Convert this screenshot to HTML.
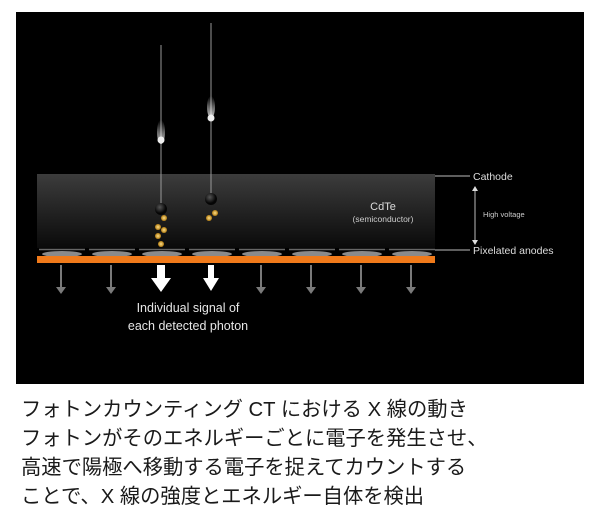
<!DOCTYPE html>
<html><head><meta charset="utf-8"><style>
body{margin:0;background:#fff;width:600px;height:530px;overflow:hidden;position:relative}
.t{position:absolute;left:21px;font-family:"Liberation Sans","Noto Sans CJK JP",sans-serif;font-size:20.3px;color:#1a1a1a;white-space:nowrap;line-height:29px}
</style></head><body>
<svg width="600" height="385" style="position:absolute;left:0;top:0" font-family="Liberation Sans,sans-serif">
<defs>
<linearGradient id="g" x1="0" y1="0" x2="0" y2="1"><stop offset="0" stop-color="#3c3c3c"/><stop offset="1" stop-color="#0a0a0a"/></linearGradient>
<radialGradient id="y"><stop offset="0" stop-color="#ffe08a"/><stop offset="1" stop-color="#b07a10"/></radialGradient>
<radialGradient id="b" cx="0.4" cy="0.35"><stop offset="0" stop-color="#555"/><stop offset="1" stop-color="#050505"/></radialGradient>
<linearGradient id="tr" x1="0" y1="0" x2="0" y2="1"><stop offset="0" stop-color="#fff" stop-opacity="0"/><stop offset="1" stop-color="#fff"/></linearGradient>
</defs>
<rect x="16" y="12" width="568" height="372" fill="#000"/>
<rect x="37" y="174" width="398" height="74" fill="url(#g)"/>
<g stroke="#999" stroke-width="1">
<line x1="161" y1="45" x2="161" y2="205"/><line x1="211" y1="23" x2="211" y2="195"/></g>
<ellipse cx="161" cy="132" rx="4" ry="12" fill="url(#tr)" opacity="0.8"/>
<circle cx="161" cy="140" r="3.5" fill="#eee"/>
<ellipse cx="211" cy="107" rx="4" ry="11" fill="url(#tr)" opacity="0.8"/>
<circle cx="211" cy="118" r="3.5" fill="#eee"/>
<circle cx="161" cy="209" r="6" fill="url(#b)"/><circle cx="211" cy="199" r="6" fill="url(#b)"/>
<g fill="url(#y)">
<circle cx="164" cy="218" r="3"/><circle cx="158" cy="227" r="3"/><circle cx="164" cy="230" r="3"/><circle cx="158" cy="236" r="3"/><circle cx="161" cy="244" r="3"/>
<circle cx="215" cy="213" r="3"/><circle cx="209" cy="218" r="3"/></g>
<g fill="#8a8a8a">
<ellipse cx="62" cy="254" rx="20" ry="3"/><ellipse cx="112" cy="254" rx="20" ry="3"/><ellipse cx="162" cy="254" rx="20" ry="3"/><ellipse cx="212" cy="254" rx="20" ry="3"/><ellipse cx="262" cy="254" rx="20" ry="3"/><ellipse cx="312" cy="254" rx="20" ry="3"/><ellipse cx="362" cy="254" rx="20" ry="3"/><ellipse cx="412" cy="254" rx="20" ry="3"/></g>
<g stroke="#666" stroke-width="1.5">
<line x1="39" y1="249.5" x2="85" y2="249.5"/><line x1="89" y1="249.5" x2="135" y2="249.5"/><line x1="139" y1="249.5" x2="185" y2="249.5"/><line x1="189" y1="249.5" x2="235" y2="249.5"/><line x1="239" y1="249.5" x2="285" y2="249.5"/><line x1="289" y1="249.5" x2="335" y2="249.5"/><line x1="339" y1="249.5" x2="385" y2="249.5"/><line x1="389" y1="249.5" x2="435" y2="249.5"/></g>
<rect x="37" y="256" width="398" height="7" fill="#f07a1a"/>
<g fill="#7a7a7a" stroke="#7a7a7a" stroke-width="2">
<line x1="61" y1="265" x2="61" y2="288"/><line x1="111" y1="265" x2="111" y2="288"/><line x1="261" y1="265" x2="261" y2="288"/><line x1="311" y1="265" x2="311" y2="288"/><line x1="361" y1="265" x2="361" y2="288"/><line x1="411" y1="265" x2="411" y2="288"/></g>
<g fill="#7a7a7a"><path d="M56 287h10l-5 7z"/><path d="M106 287h10l-5 7z"/><path d="M256 287h10l-5 7z"/><path d="M306 287h10l-5 7z"/><path d="M356 287h10l-5 7z"/><path d="M406 287h10l-5 7z"/></g>
<path d="M157 265h8v13h6l-10 14-10-14h6z" fill="#fff"/>
<path d="M208 265h6v13h5l-8 13-8-13h5z" fill="#fff"/>
<text x="188" y="312" fill="#e6e6e6" font-size="12.5" text-anchor="middle">Individual signal of</text>
<text x="188" y="330" fill="#e6e6e6" font-size="12.5" text-anchor="middle">each detected photon</text>
<text x="383" y="210" fill="#ddd" font-size="11" text-anchor="middle">CdTe</text>
<text x="383" y="222" fill="#ccc" font-size="8.5" text-anchor="middle">(semiconductor)</text>
<g stroke="#bbb" stroke-width="1"><line x1="435" y1="176" x2="470" y2="176"/><line x1="435" y1="250" x2="470" y2="250"/><line x1="475" y1="190" x2="475" y2="241"/></g>
<path d="M472 191h6l-3-5z M472 240h6l-3 5z" fill="#ddd"/>
<text x="473" y="180" fill="#ddd" font-size="10.5">Cathode</text>
<text x="473" y="254" fill="#ddd" font-size="10.5">Pixelated anodes</text>
<text x="483" y="217" fill="#ccc" font-size="7.5">High voltage</text>
</svg>
<div class="t" style="top:396px">フォトンカウンティング CT における X 線の動き</div>
<div class="t" style="top:425px">フォトンがそのエネルギーごとに電子を発生させ、</div>
<div class="t" style="top:454px">高速で陽極へ移動する電子を捉えてカウントする</div>
<div class="t" style="top:483px">ことで、X 線の強度とエネルギー自体を検出</div>
</body></html>
